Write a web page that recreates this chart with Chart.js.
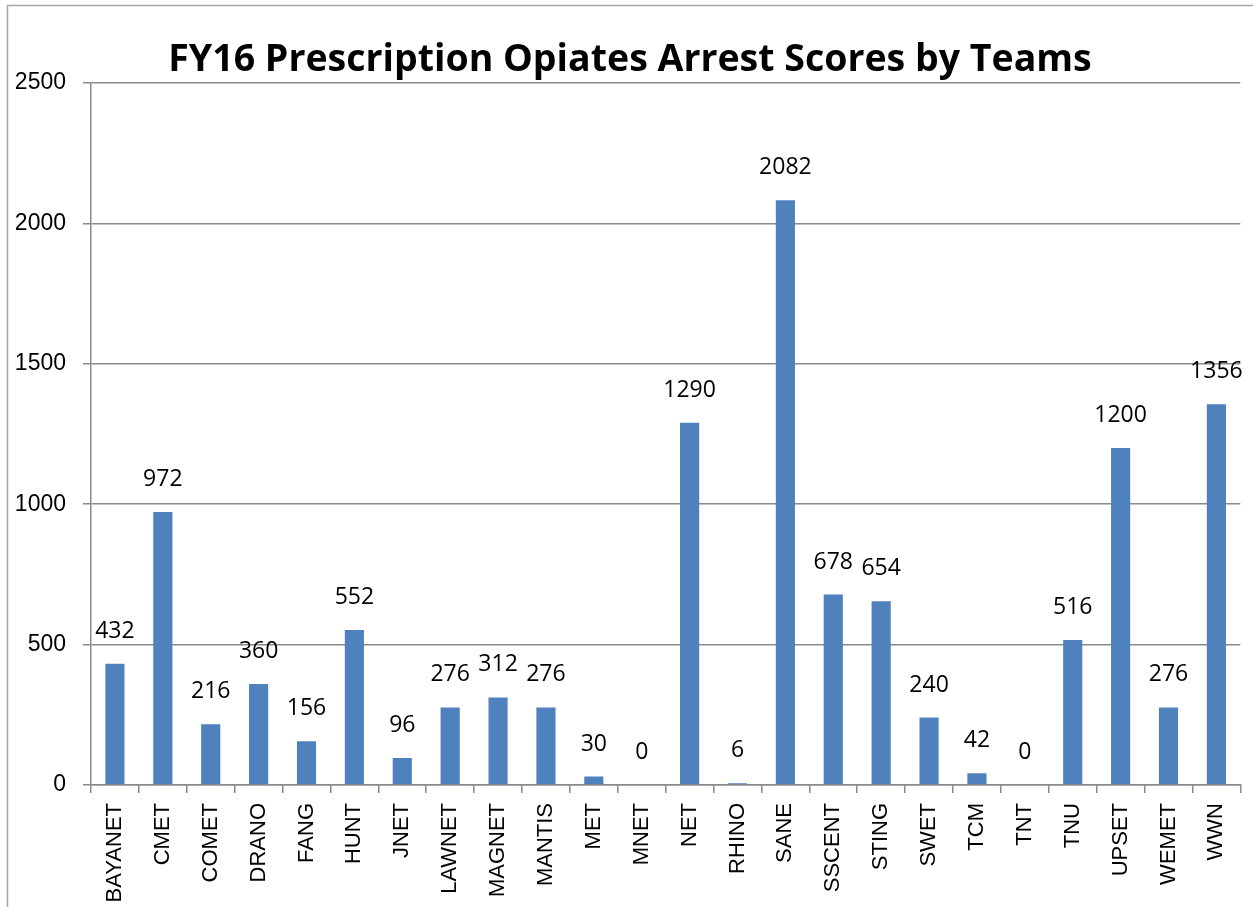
<!DOCTYPE html>
<html>
<head>
<meta charset="utf-8">
<script src="https://cdn.jsdelivr.net/npm/chart.js@4"></script>
<style>
  html, body { margin: 0; padding: 0; background: #fff; }
  #wrap { width: 1253px; height: 907px; }
</style>
</head>
<body>
<div id="wrap"><canvas id="arrest-chart" width="1253" height="907"></canvas></div>
<script>
// Data
const teams = ["BAYANET", "CMET", "COMET", "DRANO", "FANG", "HUNT", "JNET", "LAWNET",
  "MAGNET", "MANTIS", "MET", "MNET", "NET", "RHINO", "SANE", "SSCENT", "STING",
  "SWET", "TCM", "TNT", "TNU", "UPSET", "WEMET", "WWN"];
const scores = [432, 972, 216, 360, 156, 552, 96, 276, 312, 276, 30, 0, 1290, 6,
  2082, 678, 654, 240, 42, 0, 516, 1200, 276, 1356];
const yTicks = [0, 500, 1000, 1500, 2000, 2500];
const chartTitle = "FY16 Prescription Opiates Arrest Scores by Teams";

const axisGray = "#8a8a8a";

// frame + title
const frameAndTitle = {
  id: "frameAndTitle",
  beforeDraw(chart) {
    const ctx = chart.ctx;
    ctx.save();
    ctx.fillStyle = "#fff";
    ctx.fillRect(0, 0, chart.width, chart.height);
    ctx.strokeStyle = "#a6a6a6";
    ctx.lineWidth = 1.5;
    ctx.beginPath();
    ctx.moveTo(7.5, chart.height);
    ctx.lineTo(7.5, 5.5);
    ctx.lineTo(chart.width, 5.5);
    ctx.stroke();
    ctx.restore();
  },
  afterDraw(chart) {
    const ctx = chart.ctx;
    ctx.save();
    ctx.font = "bold 37.5px 'Open Sans'";
    ctx.fillStyle = "#000";
    ctx.textAlign = "center";
    ctx.textBaseline = "alphabetic";
    ctx.fillText(chartTitle, 630, 71);
    ctx.restore();
  },
};

// value labels above bars
const barValues = {
  id: "barValues",
  afterDatasetsDraw(chart) {
    const ctx = chart.ctx;
    const meta = chart.getDatasetMeta(0);
    ctx.save();
    ctx.font = "23px 'Open Sans'";
    ctx.fillStyle = "#000";
    ctx.textAlign = "center";
    ctx.textBaseline = "alphabetic";
    meta.data.forEach((bar, i) => {
      ctx.fillText(String(scores[i]), bar.x, bar.y - 26);
    });
    ctx.restore();
  },
};

new Chart(document.getElementById("arrest-chart"), {
  type: "bar",
  data: {
    labels: teams,
    datasets: [
      {
        data: scores,
        backgroundColor: "#4f81bd",
        barPercentage: 0.4,
        categoryPercentage: 1,
      },
    ],
  },
  options: {
    responsive: false,
    animation: false,
    layout: { padding: { top: 83, right: 10, left: 0, bottom: 0 } },
    scales: {
      x: {
        grid: {
          drawOnChartArea: false,
          drawTicks: true,
          tickLength: 8,
          color: axisGray,
          lineWidth: 1.5,
        },
        border: { color: axisGray, width: 1.5 },
        ticks: {
          minRotation: 90,
          maxRotation: 90,
          autoSkip: false,
          padding: 10,
          color: "#000",
          font: { family: "'Liberation Sans', Arial", size: 22 },
        },
        afterFit(scale) {
          scale.height = 122;
        },
      },
      y: {
        min: 0,
        max: 2500,
        afterBuildTicks(scale) {
          scale.ticks = yTicks.map((v) => ({ value: v }));
        },
        grid: {
          color: axisGray,
          lineWidth: 1.5,
          tickLength: 8,
        },
        border: { color: axisGray, width: 1.5 },
        ticks: {
          padding: 17,
          color: "#000",
          font: { family: "'Liberation Sans', Arial", size: 23 },
          callback: (value) => String(value),
        },
        afterFit(scale) {
          scale.width = 91;
        },
      },
    },
    plugins: {
      legend: { display: false },
      title: { display: false },
      tooltip: { enabled: false },
    },
  },
  plugins: [frameAndTitle, barValues],
});
</script>
</body>
</html>
